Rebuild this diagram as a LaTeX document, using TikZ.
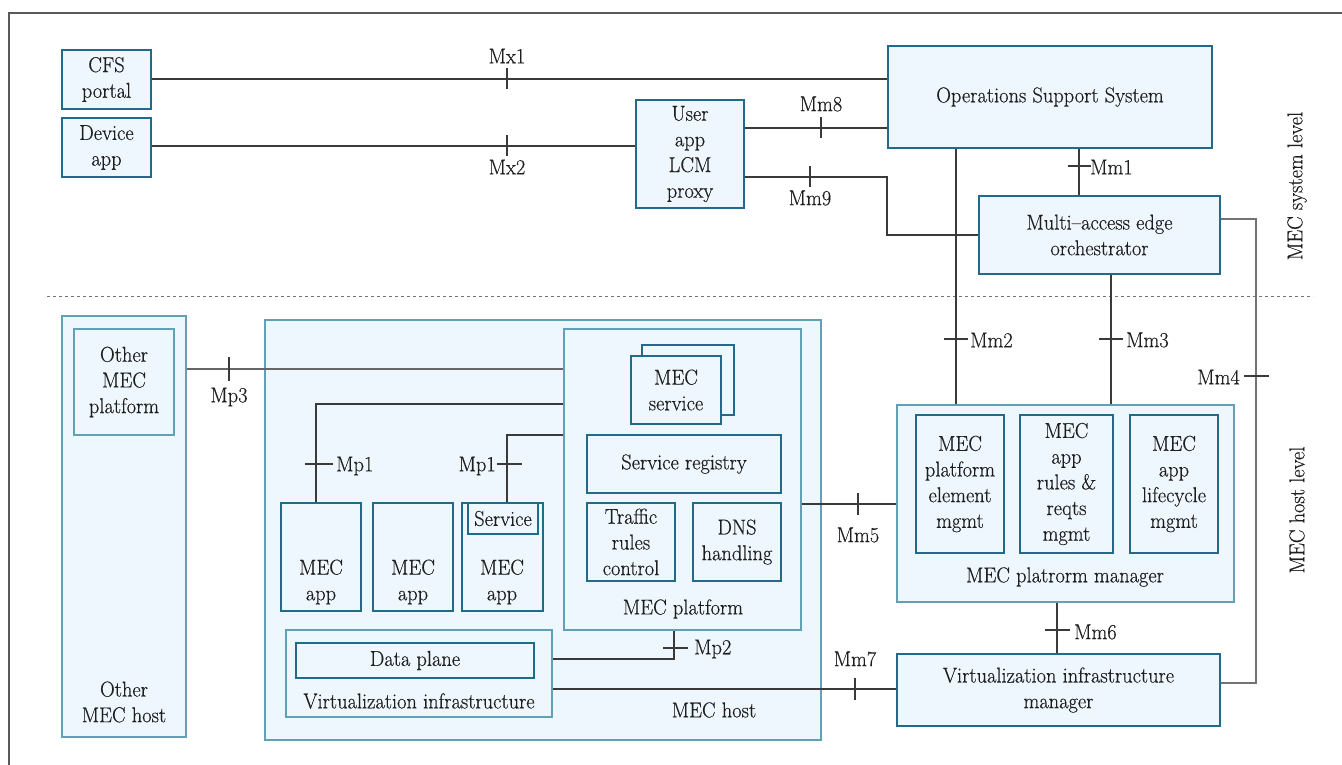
\documentclass[tikz,border=0pt]{standalone}
\usepackage{fontspec}
\setmainfont{Latin Modern Roman}[FakeStretch=0.95, FakeBold=0.4]
\usetikzlibrary{calc}
\definecolor{boxfill}{HTML}{EEF7FD}
\definecolor{boxdark}{HTML}{22698A}
\definecolor{boxlight}{HTML}{62A0B6}
\definecolor{linec}{HTML}{3A3A3A}
\definecolor{txt}{HTML}{1E1E1E}
\newcommand\fs{\fontsize{21.5}{25.7}\selectfont}
\tikzset{
  box/.style={draw=boxdark, fill=boxfill, line width=1.3pt, inner sep=0pt, align=center, font=\fs, text=txt},
  obox/.style={draw=boxlight, fill=boxfill, line width=1.3pt, inner sep=0pt, align=center, font=\fs, text=txt},
  lbl/.style={inner sep=0pt, font=\fs, text=txt, align=center},
  conn/.style={draw=linec, line width=1.2pt},
  frameline/.style={draw=black!65, line width=1.4pt},
  levelline/.style={draw=black!55, line width=1pt, dash pattern=on 3pt off 3pt},
}
\newcommand\B[7]{\node[#6, minimum width={#4pt-#2pt}, minimum height={#5pt-#3pt}] (#1) at ({(#2+#4)/2},{(#3+#5)/2}) {#7};}
\begin{document}
\begin{tikzpicture}[x=1pt,y=-1pt]
\useasboundingbox (0,0) rectangle (1342,765);
\draw[frameline] (1342,13) -- (9,13) -- (9,765);
\draw[levelline] (47,296) -- (1313,296);
% side labels
\node[lbl, rotate=90] (syslvl) at (1297,186) {MEC system level};
\node[lbl, rotate=90] (hostlvl) at (1297,510) {MEC host level};
% system level boxes
\B{cfs}{62}{50}{151}{109}{box}{CFS\\portal}
\B{dev}{62}{118}{151}{177}{box}{Device\\app}
\B{uap}{636}{100}{744}{208}{box}{User\\app\\LCM\\proxy}
\B{oss}{888}{46}{1212}{148}{box}{Operations Support System}
\B{meo}{979}{196}{1220}{274}{box}{Multi--access edge\\orchestrator}
% other MEC host
\B{omh}{62}{316}{186}{737}{obox}{}
\node[lbl] (omhl) at (124,702) {Other\\MEC host};
\B{omp}{74}{329}{174}{435}{obox}{Other\\MEC\\platform}
% MEC host
\B{host}{265}{320}{821}{740}{obox}{}
\node[lbl] (hostl) at (714,710) {MEC host};
\B{plat}{564}{329}{801}{630}{obox}{}
\node[lbl] (platl) at (683,609) {MEC platform};
\B{svcb}{642}{345}{734}{415}{box}{}
\B{svc}{631}{356}{721}{424}{box}{MEC\\service}
\B{reg}{587}{435}{781}{493}{box}{Service registry}
\B{trc}{587}{503}{675}{581}{box}{Traffic\\rules\\control}
\B{dns}{693}{503}{781}{581}{box}{DNS\\handling}
\B{app1}{281}{503}{361}{611}{box}{}
\node[lbl] (app1l) at (321,582) {MEC\\app};
\B{app2}{373}{503}{453}{611}{box}{}
\node[lbl] (app2l) at (413,582) {MEC\\app};
\B{app3}{462}{503}{543}{611}{box}{}
\node[lbl] (app3l) at (502,582) {MEC\\app};
\B{srv}{468}{503}{538}{534}{box}{Service}
\B{vi}{286}{630}{552}{717}{obox}{}
\node[lbl] (vil) at (419,701) {Virtualization infrastructure};
\B{dp}{296}{643}{534}{678}{box}{Data plane}
% MEC platform manager
\B{mpm}{897}{405}{1234}{602}{obox}{}
\node[lbl] (mpml) at (1065,577) {MEC platrorm manager};
\B{mpe}{916}{415}{1004}{553}{box}{MEC\\platform\\element\\mgmt}
\B{mar}{1020}{415}{1113}{553}{box}{MEC\\app\\rules \&\\reqts\\mgmt}
\B{mal}{1130}{415}{1218}{553}{box}{MEC\\app\\lifecycle\\mgmt}
\B{vim}{897}{654}{1220}{726}{box}{Virtualization infrastructure\\manager}
% reference-point coordinates
\coordinate (cx1) at (507,79);
\coordinate (cx2) at (507,146);
\coordinate (cm8) at (821,128);
\coordinate (cm9) at (810,177);
\coordinate (cm9b) at (887,177);
\coordinate (cm1) at (1079,166);
\coordinate (cm2) at (956,339);
\coordinate (cm3) at (1111,339);
\coordinate (cm4a) at (1256,219);
\coordinate (cm4b) at (1256,683);
\coordinate (cm4) at (1256,376);
\coordinate (cm5) at (858,504);
\coordinate (cm6) at (1057,630);
\coordinate (cm7) at (855,689);
\coordinate (cp2) at (674,659);
\coordinate (cp2t) at (674,648);
\coordinate (cp3) at (229,369);
\coordinate (cp1a) at (316,404);
\coordinate (cp1at) at (316,464);
\coordinate (cp1b) at (507,435);
\coordinate (cp1bt) at (507,464);
% connectors
\draw[conn] (cfs.east |- cx1) -- (cx1 -| oss.west);
\draw[conn] (dev.east |- cx2) -- (cx2 -| uap.west);
\draw[conn] (uap.east |- cm8) -- (cm8 -| oss.west);
\draw[conn] (uap.east |- cm9) -- (cm9b) |- (meo.west);
\draw[conn] (cm1 |- oss.south) -- (cm1 |- meo.north);
\draw[conn] (cm2 |- oss.south) -- (cm2 |- mpm.north);
\draw[conn] (cm3 |- meo.south) -- (cm3 |- mpm.north);
\draw[conn, draw=black!55] (meo.east |- cm4a) -- (cm4a) -- (cm4b) -- (cm4b -| vim.east);
\draw[conn] (cm5 -| plat.east) -- (cm5 -| mpm.west);
\draw[conn] (cm6 |- mpm.south) -- (cm6 |- vim.north);
\draw[conn] (cm7 -| vi.east) -- (cm7 -| vim.west);
\draw[conn] (cp2 -| vi.east) -- (cp2) -- (cp2 |- plat.south);
\draw[conn, draw=black!60] (cp3 -| omh.east) -- (cp3 -| plat.west);
\draw[conn] (cp1a |- app1.north) -- (cp1a) -- (cp1a -| plat.west);
\draw[conn] (cp1b |- srv.north) -- (cp1b) -- (cp1b -| plat.west);
% ticks
\draw[conn] (cx1) ++(0,-10.5) -- ++(0,21);
\draw[conn] (cx2) ++(0,-10.5) -- ++(0,21);
\draw[conn] (cm8) ++(0,-10.5) -- ++(0,21);
\draw[conn] (cm9) ++(0,-10.5) -- ++(0,21);
\draw[conn] (cm5) ++(0,-11) -- ++(0,22);
\draw[conn] (cm7) ++(0,-11) -- ++(0,22);
\draw[conn] (cp3) ++(0,-12) -- ++(0,24);
\draw[conn] (cm1) ++(-11.5,0) -- ++(23,0);
\draw[conn] (cm2) ++(-12,0) -- ++(24,0);
\draw[conn] (cm3) ++(-12,0) -- ++(24,0);
\draw[conn] (cm4) ++(-12,0) -- ++(25,0);
\draw[conn] (cm6) ++(-12,0) -- ++(25,0);
\draw[conn] (cp2t) ++(-11,0) -- ++(25,0);
\draw[conn] (cp1at) ++(-11,0) -- ++(28,0);
\draw[conn] (cp1bt) ++(-10,0) -- ++(25,0);
% labels
\node[lbl] (lx1) at (507,56) {Mx1};
\node[lbl] (lx2) at (507,167) {Mx2};
\node[lbl] (lm8) at (821,104) {Mm8};
\node[lbl] (lm9) at (810,198) {Mm9};
\node[lbl, anchor=west] (lm1) at (1090,167) {Mm1};
\node[lbl, anchor=west] (lm2) at (970,340) {Mm2};
\node[lbl, anchor=west] (lm3) at (1126,340) {Mm3};
\node[lbl, anchor=east] (lm4) at (1240,377) {Mm4};
\node[lbl] (lm5) at (858,535) {Mm5};
\node[lbl, anchor=west] (lm6) at (1074,632) {Mm6};
\node[lbl] (lm7) at (855,659) {Mm7};
\node[lbl, anchor=west] (lp2) at (694,649) {Mp2};
\node[lbl] (lp3) at (229,397) {Mp3};
\node[lbl, anchor=west] (lp1a) at (336,466) {Mp1};
\node[lbl, anchor=east] (lp1b) at (496,466) {Mp1};
\end{tikzpicture}
\end{document}
